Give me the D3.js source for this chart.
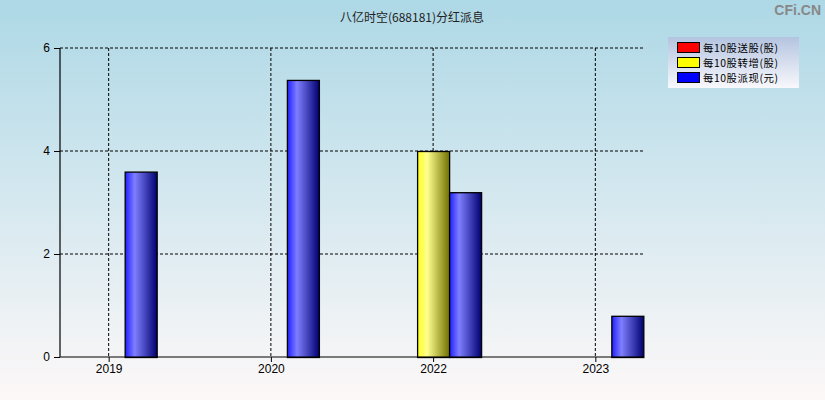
<!DOCTYPE html>
<html><head><meta charset="utf-8">
<script src="https://cdn.jsdelivr.net/npm/d3@7"></script>
<style>body{margin:0;padding:0;overflow:hidden}svg{display:block}</style>
</head><body>
<script>
const title = "八亿时空(688181)分红派息";
const years = ["2019", "2020", "2022", "2023"];
const seriesNames = ["每10股送股(股)", "每10股转增(股)", "每10股派现(元)"];
const songGu = [0, 0, 0, 0];
const zhuanZeng = [0, 0, 4.0, 0];
const paiXian = [3.6, 5.38, 3.2, 0.8];
const yTicks = [0, 2, 4, 6];

const W = 825, H = 400;
const L = 60, R = 644, T = 48, B = 357;
const svg = d3.select("body").append("svg").attr("width", W).attr("height", H);
const defs = svg.append("defs");

const bg = defs.append("linearGradient").attr("id", "bg").attr("x1", 0).attr("y1", 0).attr("x2", 0).attr("y2", 1);
bg.append("stop").attr("offset", "0%").attr("stop-color", "#add8e6");
bg.append("stop").attr("offset", "100%").attr("stop-color", "#fdf8f8");
svg.append("rect").attr("width", W).attr("height", H).attr("fill", "url(#bg)");

const lg = defs.append("linearGradient").attr("id", "lg").attr("x1", 0).attr("y1", 0).attr("x2", 0).attr("y2", 1);
lg.append("stop").attr("offset", "0%").attr("stop-color", "#b4c4e0");
lg.append("stop").attr("offset", "100%").attr("stop-color", "#f8f8fc");

function barGrad(id, c0, c1, c2) {
  const g = defs.append("linearGradient").attr("id", id).attr("x1", 0).attr("y1", 0).attr("x2", 1).attr("y2", 0);
  g.append("stop").attr("offset", "0%").attr("stop-color", c0);
  g.append("stop").attr("offset", "30%").attr("stop-color", c1);
  g.append("stop").attr("offset", "100%").attr("stop-color", c2);
}
barGrad("gr", "#ff2020", "#ff8080", "#700000");
barGrad("gy", "#ffff20", "#ffff90", "#707000");
barGrad("gb", "#2020ff", "#7f7fff", "#000070");
const fills = ["url(#gr)", "url(#gy)", "url(#gb)"];
const solid = ["#ff0000", "#ffff00", "#0000ff"];

const x = d3.scalePoint().domain(years).range([L, R]).padding(0.3);
const y = d3.scaleLinear().domain([0, 6]).range([B, T]);
const bw = 32;
const off = d3.scaleBand().domain([0, 1, 2]).range([-48, 48]);

// grid
const g = svg.append("g");
g.selectAll(".hg").data(yTicks.filter(d => d > 0)).join("line")
  .attr("x1", L).attr("x2", R).attr("y1", d => y(d)).attr("y2", d => y(d))
  .attr("stroke", "#000").attr("stroke-dasharray", "3,2");
g.selectAll(".vg").data(years).join("line")
  .attr("x1", d => x(d)).attr("x2", d => x(d)).attr("y1", T).attr("y2", B)
  .attr("stroke", "#000").attr("stroke-dasharray", "3,2");

// bars
const series = [songGu, zhuanZeng, paiXian];
series.forEach((vals, si) => {
  svg.append("g").selectAll("rect").data(years.map((yr, i) => ({yr, v: vals[i]})).filter(d => d.v > 0)).join("rect")
    .attr("x", d => x(d.yr) + off(si) + 0.5)
    .attr("y", d => y(d.v) + 0.5)
    .attr("width", bw)
    .attr("height", d => B - y(d.v))
    .attr("fill", fills[si]).attr("stroke", "#000").attr("stroke-width", 1.3);
});

// axes
const yAxis = d3.axisLeft(y).tickValues(yTicks).tickSize(6).tickFormat(d3.format("d"));
const ya = svg.append("g").attr("transform", `translate(${L},0)`).call(yAxis);
const xAxis = d3.axisBottom(x).tickSize(5);
const xa = svg.append("g").attr("transform", `translate(0,${B})`).call(xAxis);
[ya, xa].forEach(a => {
  a.select(".domain").attr("stroke", "#000").attr("stroke-width", 1.2);
  a.selectAll(".tick line").attr("stroke", "#000");
  a.selectAll("text").attr("fill", "#000").attr("font-size", 12).attr("font-family", "Liberation Sans, Arial, sans-serif");
});
xa.select(".domain").attr("d", `M${L},0H${R}`);
ya.select(".domain").attr("d", `M0,${T}V${B}`);
ya.selectAll("text").attr("x", -10);
xa.selectAll("text").attr("y", 7);

// title
svg.append("text").attr("x", 412).attr("y", 22).attr("text-anchor", "middle")
  .attr("font-size", 12).attr("font-family", "Noto Sans CJK SC, sans-serif").attr("fill", "#222").text(title);
svg.append("text").attr("x", 821).attr("y", 15).attr("text-anchor", "end")
  .attr("font-size", 14).attr("font-weight", "bold").attr("font-family", "Liberation Sans, Arial, sans-serif").attr("fill", "#888").text("CFi.CN");

// legend
const leg = svg.append("g").attr("transform", "translate(668,37)");
leg.append("rect").attr("width", 131).attr("height", 51).attr("fill", "url(#lg)");
seriesNames.forEach((n, i) => {
  leg.append("rect").attr("x", 9.5).attr("y", 5.5 + i * 15).attr("width", 22).attr("height", 10)
    .attr("fill", solid[i]).attr("stroke", "#000").attr("stroke-width", 1);
  leg.append("text").attr("x", 35).attr("y", 14.5 + i * 15).attr("font-size", 10.4)
    .attr("letter-spacing", 0.55)
    .attr("font-family", "Noto Sans CJK SC, sans-serif").attr("fill", "#000").text(n);
});
</script>
</body></html>
